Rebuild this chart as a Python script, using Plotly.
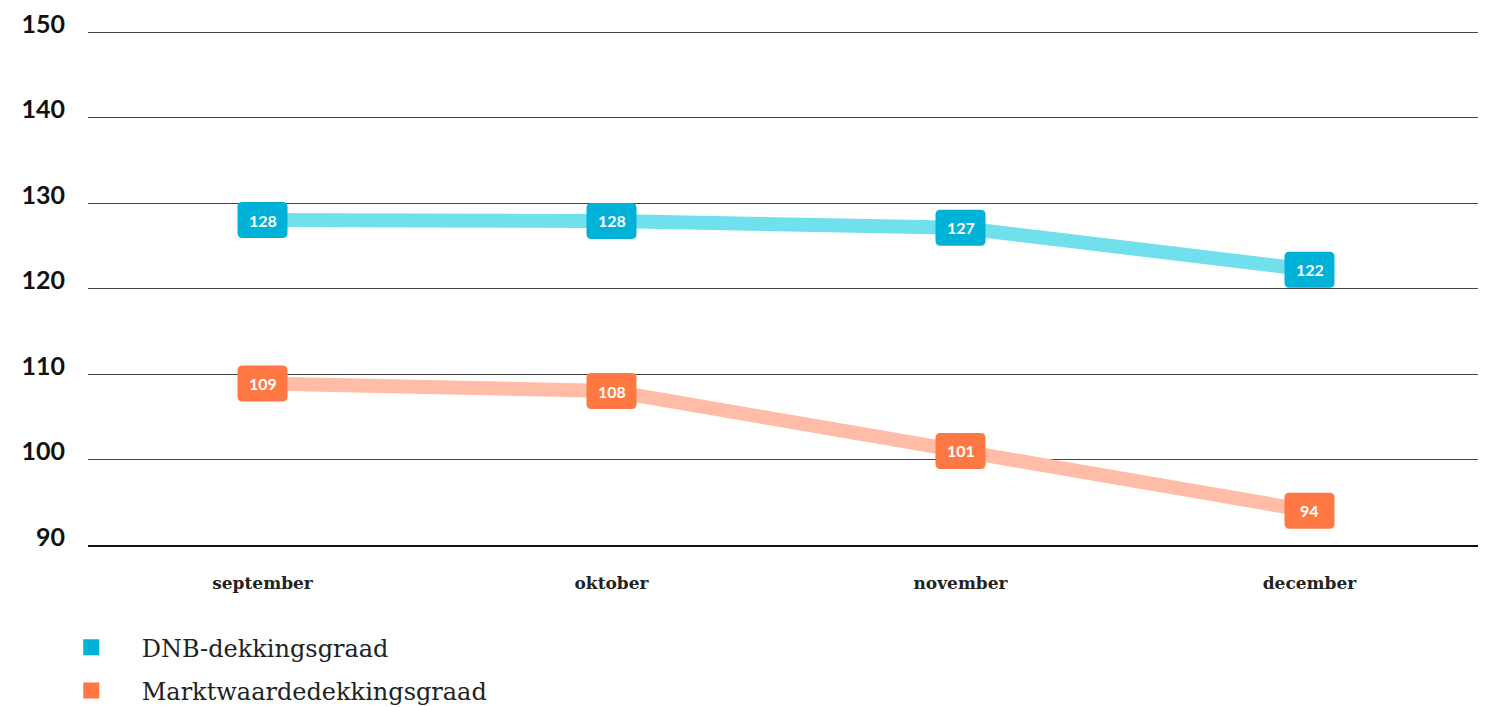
import plotly.graph_objects as go

months = ["september", "oktober", "november", "december"]
dnb = [128.0, 127.9, 127.1, 122.2]
markt = [108.9, 108.0, 101.0, 94.0]
dnb_labels = ["128", "128", "127", "122"]
markt_labels = ["109", "108", "101", "94"]
y_ticks = [90, 100, 110, 120, 130, 140, 150]

series = [
    ("DNB-dekkingsgraad", dnb, dnb_labels, "#6FE0EC", "#00B1D8"),
    ("Marktwaardedekkingsgraad", markt, markt_labels, "#FFBCA6", "#FF7843"),
]

fig = go.Figure()
xs = list(range(len(months)))

W, H, R = 25, 18, 5
box_path = (f"M {-W+R},{-H} L {W-R},{-H} Q {W},{-H} {W},{-H+R} L {W},{H-R} Q {W},{H} {W-R},{H} "
            f"L {-W+R},{H} Q {-W},{H} {-W},{H-R} L {-W},{-H+R} Q {-W},{-H} {-W+R},{-H} Z")

for name, vals, labels, light, dark in series:
    fig.add_trace(go.Scatter(x=xs, y=vals, mode="lines", line=dict(color=light, width=14),
                             showlegend=False, hoverinfo="skip"))
    for xi, v, lab in zip(xs, vals, labels):
        fig.add_shape(type="path", xref="x", yref="y", xsizemode="pixel", ysizemode="pixel",
                      xanchor=xi, yanchor=v, path=box_path, fillcolor=dark,
                      line=dict(width=0), layer="above")
        fig.add_annotation(x=xi, y=v, text=f"<b>{lab}</b>", showarrow=False,
                           font=dict(family="Lato", size=16, color="white"))
    fig.add_trace(go.Scatter(x=[None], y=[None], mode="markers", name="    " + name,
                             legendgroup=name,
                             marker=dict(symbol="square", size=17, color=dark)))

fig.update_layout(
    width=1478, height=699,
    margin=dict(l=80, r=2, t=20, b=162),
    plot_bgcolor="white", paper_bgcolor="white",
    xaxis=dict(range=[-0.5, 3.5], tickmode="array", tickvals=xs,
               ticktext=[f"<b>{m}</b>" for m in months],
               tickfont=dict(family="DejaVu Serif", size=17, color="#222"),
               showgrid=False, showline=True, linecolor="#111", linewidth=2,
               ticks="", ticklabelstandoff=22, zeroline=False, fixedrange=True,
               automargin=False),
    yaxis=dict(range=[90, 150.47], tickmode="array", tickvals=y_ticks,
               ticktext=[f"<b>{t}</b>" for t in y_ticks],
               tickfont=dict(family="Lato", size=25, color="#111"),
               showgrid=True, gridcolor="#444", gridwidth=1, zeroline=False,
               ticks="", ticklabelstandoff=22, ticklabelshift=-8, fixedrange=True,
               ticklabeloverflow="allow", automargin=False),
    legend=dict(x=-0.012, xanchor="left", yref="container", y=0.117, yanchor="top",
                font=dict(family="DejaVu Serif", size=24, color="#222"),
                orientation="v", tracegroupgap=9),
    showlegend=True,
)

fig.write_html("out.html")
